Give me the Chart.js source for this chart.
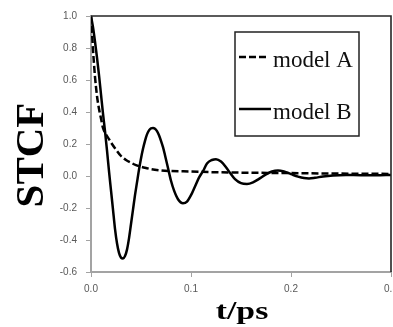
<!DOCTYPE html>
<html>
<head>
<meta charset="utf-8">
<script src="https://cdn.jsdelivr.net/npm/chart.js@4/dist/chart.umd.min.js"></script>
<style>
  html, body { margin: 0; padding: 0; background: #fff; }
  #frame { width: 393px; height: 327px; overflow: hidden; position: relative; }
  #wrap { width: 412px; height: 327px; position: relative; }
</style>
</head>
<body>
<div id="frame"><div id="wrap"><canvas id="c"></canvas></div></div>
<script>
// Time axis (ps) and spin-time correlation values
const seriesNames = ['model A', 'model B'];

const tA = [0, 0.001, 0.002, 0.003, 0.004, 0.006, 0.008, 0.010, 0.012, 0.015, 0.018, 0.021,
  0.025, 0.030, 0.035, 0.040, 0.045, 0.050, 0.055, 0.060, 0.070, 0.080, 0.100, 0.120,
  0.150, 0.200, 0.250, 0.300];
const valuesA = [1.00, 0.90, 0.79, 0.70, 0.62, 0.50, 0.42, 0.36, 0.30, 0.26, 0.23, 0.20,
  0.165, 0.125, 0.10, 0.083, 0.068, 0.058, 0.05, 0.043, 0.035, 0.031, 0.028, 0.024,
  0.021, 0.018, 0.015, 0.013];

const tB = [0, 0.002, 0.004, 0.006, 0.008, 0.010, 0.012, 0.014, 0.016, 0.018, 0.020, 0.022,
  0.024, 0.026, 0.028, 0.030, 0.032, 0.034, 0.036, 0.038, 0.040, 0.042, 0.044, 0.046,
  0.048, 0.050, 0.052, 0.054, 0.056, 0.058, 0.060, 0.062, 0.064, 0.066, 0.068, 0.070,
  0.072, 0.074, 0.077, 0.080, 0.083, 0.087, 0.092, 0.096, 0.100, 0.104, 0.108, 0.112,
  0.116, 0.121, 0.125, 0.130, 0.135, 0.139, 0.144, 0.150, 0.156, 0.162, 0.168, 0.175,
  0.181, 0.187, 0.193, 0.200, 0.207, 0.213, 0.218, 0.224, 0.232, 0.242, 0.255, 0.270,
  0.285, 0.300];
const valuesB = [1.00, 0.93, 0.84, 0.74, 0.63, 0.51, 0.39, 0.28, 0.16, 0.03, -0.09, -0.21,
  -0.33, -0.42, -0.48, -0.51, -0.515, -0.50, -0.46, -0.39, -0.30, -0.21, -0.12, -0.04,
  0.04, 0.11, 0.17, 0.22, 0.26, 0.285, 0.298, 0.30, 0.295, 0.28, 0.255, 0.22,
  0.18, 0.13, 0.05, -0.03, -0.09, -0.145, -0.17, -0.16, -0.12, -0.065, -0.01, 0.03,
  0.078, 0.10, 0.105, 0.09, 0.055, 0.02, -0.02, -0.045, -0.05, -0.04, -0.018, 0.01,
  0.028, 0.034, 0.028, 0.012, -0.004, -0.013, -0.015, -0.011, -0.003, 0.003, 0.006, 0.005,
  0.005, 0.007];

const xTicks = [0, 0.1, 0.2, 0.3];
const xTickLabels = ['0.0', '0.1', '0.2', '0.3'];
const yTicks = [-0.6, -0.4, -0.2, 0, 0.2, 0.4, 0.6, 0.8, 1.0];
const yTickLabels = ['-0.6', '-0.4', '-0.2', '0.0', '0.2', '0.4', '0.6', '0.8', '1.0'];

const xTitle = 't/ps';
const yTitle = 'STCF';

const toPoints = (ts, vs) => ts.map((t, i) => ({ x: t, y: vs[i] }));

const axisGray = '#a3a3a3';
const tickFont = { family: 'Liberation Sans', size: 10 };

// Frame, axis titles and the boxed legend inside the plot
const decorations = {
  id: 'decorations',
  afterDraw(chart) {
    const { ctx, chartArea: a } = chart;
    ctx.save();

    // top and right frame lines
    ctx.strokeStyle = '#262626';
    ctx.lineWidth = 1.6;
    ctx.beginPath();
    ctx.moveTo(a.left, a.top);
    ctx.lineTo(a.right, a.top);
    ctx.lineTo(a.right, a.bottom);
    ctx.stroke();

    // legend box
    const bx = a.left + 144, by = a.top + 16, bw = 124, bh = 104;
    ctx.fillStyle = '#fff';
    ctx.fillRect(bx, by, bw, bh);
    ctx.strokeStyle = '#222';
    ctx.lineWidth = 1.5;
    ctx.strokeRect(bx, by, bw, bh);

    const rows = [by + 25, by + 77];
    chart.data.datasets.forEach((ds, i) => {
      const y = rows[i];
      ctx.strokeStyle = ds.borderColor;
      ctx.lineWidth = ds.borderWidth;
      ctx.setLineDash(ds.borderDash || []);
      ctx.beginPath();
      ctx.moveTo(bx + 4, y);
      ctx.lineTo(bx + (i === 0 ? 33 : 36), y);
      ctx.stroke();
      ctx.setLineDash([]);
      ctx.fillStyle = '#111';
      ctx.font = '23px "Liberation Serif"';
      ctx.textAlign = 'left';
      ctx.textBaseline = 'alphabetic';
      ctx.fillText(ds.label, bx + 38, y + 10);
    });

    // y axis title
    ctx.fillStyle = '#000';
    ctx.font = 'bold 41px "Liberation Serif"';
    ctx.textAlign = 'center';
    ctx.textBaseline = 'alphabetic';
    ctx.save();
    ctx.translate(43, 155);
    ctx.rotate(-Math.PI / 2);
    ctx.fillText(yTitle, 0, 0);
    ctx.restore();

    // x axis title
    ctx.save();
    ctx.font = 'bold 25px "Liberation Serif"';
    ctx.translate((a.left + a.right) / 2 + 1, 319);
    ctx.scale(1.35, 1);
    ctx.fillText(xTitle, 0, 0);
    ctx.restore();

    ctx.restore();
  }
};

new Chart(document.getElementById('c'), {
  type: 'line',
  data: {
    datasets: [
      {
        label: seriesNames[0],
        data: toPoints(tA, valuesA),
        borderColor: '#000',
        borderWidth: 2.5,
        borderDash: [7, 3],
        pointRadius: 0,
        cubicInterpolationMode: 'monotone',
        fill: false
      },
      {
        label: seriesNames[1],
        data: toPoints(tB, valuesB),
        borderColor: '#000',
        borderWidth: 2.5,
        pointRadius: 0,
        cubicInterpolationMode: 'monotone',
        fill: false
      }
    ]
  },
  options: {
    responsive: true,
    maintainAspectRatio: false,
    animation: false,
    devicePixelRatio: 1,
    layout: { padding: { left: 0, right: 21, top: 16, bottom: 0 } },
    plugins: { legend: { display: false }, tooltip: { enabled: false } },
    scales: {
      x: {
        type: 'linear',
        min: 0,
        max: 0.3,
        afterBuildTicks: s => { s.ticks = xTicks.map(v => ({ value: v })); },
        afterFit: s => { s.height = 55; },
        ticks: {
          callback: (v, i) => xTickLabels[i],
          font: tickFont,
          color: '#595959',
          padding: 6,
          maxRotation: 0,
          autoSkip: false
        },
        grid: { drawOnChartArea: false, drawTicks: true, tickLength: 5, color: axisGray, lineWidth: 1 },
        border: { display: true, color: axisGray, width: 2 }
      },
      y: {
        type: 'linear',
        min: -0.6,
        max: 1.0,
        afterBuildTicks: s => { s.ticks = yTicks.map(v => ({ value: v })); },
        afterFit: s => { s.width = 91; },
        ticks: {
          callback: (v, i) => yTickLabels[i],
          font: tickFont,
          color: '#595959',
          padding: 9,
          autoSkip: false
        },
        grid: { drawOnChartArea: false, drawTicks: true, tickLength: 5, color: axisGray, lineWidth: 1 },
        border: { display: true, color: axisGray, width: 2 }
      }
    }
  },
  plugins: [decorations]
});
</script>
</body>
</html>
